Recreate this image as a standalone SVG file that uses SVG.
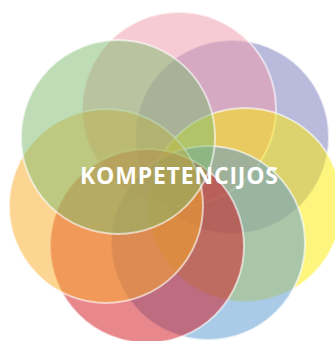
<svg xmlns="http://www.w3.org/2000/svg" width="335" height="341" viewBox="0 0 335 341">
<style>
.c{stroke:#ffffff;stroke-opacity:0.6;stroke-width:2;fill-opacity:0.5}
.t{font-family:"Open Sans","Noto Sans","Liberation Sans",sans-serif;font-weight:700;font-size:23px;fill:#ffffff}
</style>
<rect width="335" height="341" fill="#ffffff"/>
<g id="purple"><circle class="c" cx="232" cy="137" r="97" fill="#7577B9"/></g>
<g id="pink"><circle class="c" cx="179" cy="109" r="97" fill="#EF97A7"/></g>
<g id="yellow"><circle class="c" cx="245" cy="205" r="97" fill="#FDEB00"/></g>
<g id="blue"><circle class="c" cx="208" cy="243" r="97" fill="#5597D1"/></g>
<g id="red"><circle class="c" cx="147" cy="246" r="97" fill="#D10F19"/></g>
<g id="orange"><circle class="c" cx="106" cy="206" r="97" fill="#F9AB25"/></g>
<g id="green"><circle class="c" cx="118" cy="137" r="97" fill="#7DBB6D"/></g>
<g id="connectors"></g>
<g id="label"><text class="t" x="80" y="184" textLength="198" lengthAdjust="spacing">KOMPETENCIJOS</text></g>
</svg>
